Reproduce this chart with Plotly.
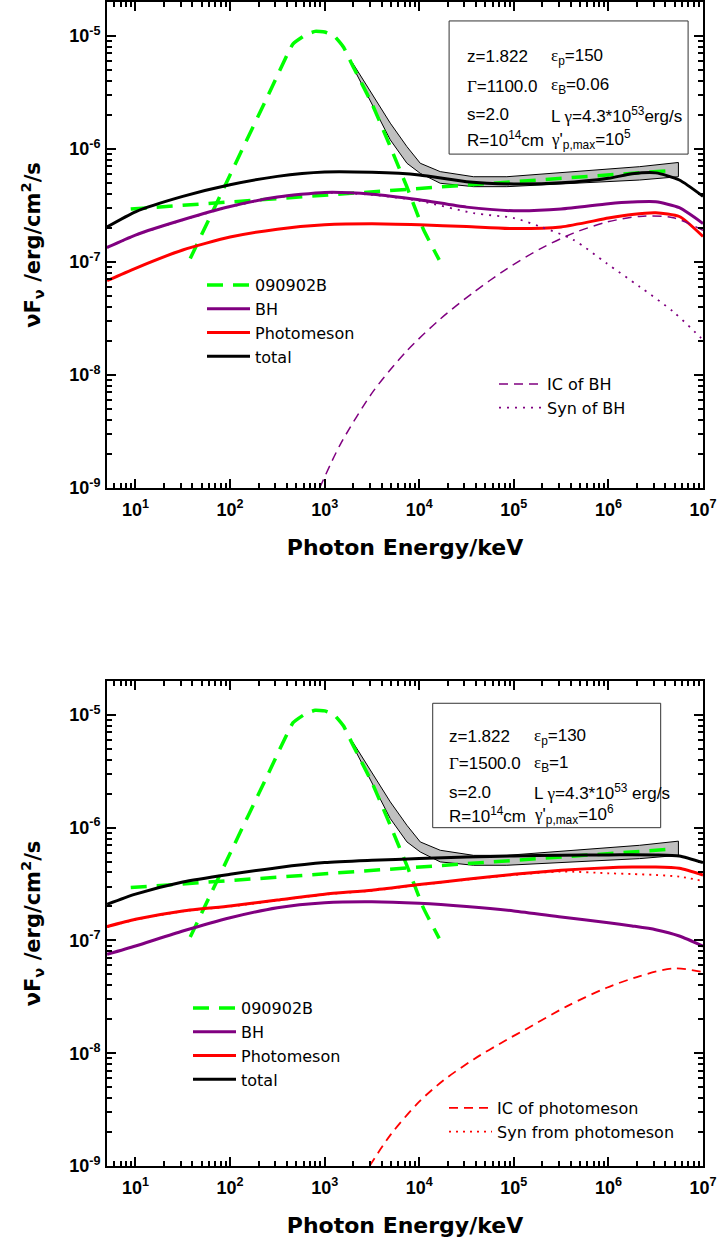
import numpy as np
import plotly.graph_objects as go

# ---------------- data (log10 of keV and of erg/cm^2/s) ----------------
grid_logE = [0.7, 1.0, 1.5, 2.0, 2.5, 3.0, 3.5, 4.0, 4.5, 5.0, 5.5, 6.0, 6.25, 6.5, 6.75, 7.0]

# upper panel (Gamma=1100)
top_total = [-6.69, -6.556, -6.42, -6.317, -6.243, -6.204, -6.207, -6.23, -6.29, -6.31,
             -6.30, -6.26, -6.22, -6.212, -6.275, -6.42]
top_bh = [-6.872, -6.762, -6.627, -6.51, -6.426, -6.385, -6.40, -6.45, -6.515, -6.547,
          -6.532, -6.485, -6.47, -6.468, -6.52, -6.66]
top_pm = [-7.166, -7.056, -6.894, -6.78, -6.71, -6.672, -6.663, -6.672, -6.687, -6.705,
          -6.69, -6.612, -6.58, -6.565, -6.598, -6.775]
top_syn_logE = [0.7, 1.0, 1.5, 2.0, 2.5, 3.0, 3.5, 4.0, 4.574, 5.0, 5.278, 5.63, 5.98,
                6.33, 6.685, 6.967, 7.0]
top_syn = [-6.875, -6.765, -6.63, -6.513, -6.429, -6.389, -6.406, -6.46, -6.568, -6.612,
           -6.687, -6.805, -7.012, -7.219, -7.44, -7.663, -7.69]
top_ic_logE = [2.947, 3.166, 3.517, 3.870, 4.222, 4.574, 4.926, 5.278, 5.63, 5.98, 6.33,
               6.685, 7.0]
top_ic = [-9.0, -8.614, -8.141, -7.786, -7.505, -7.269, -7.061, -6.884, -6.745, -6.648,
          -6.597, -6.609, -6.72]

# lower panel (Gamma=1500)
bot_total = [-6.68, -6.59, -6.482, -6.414, -6.355, -6.31, -6.29, -6.275, -6.26, -6.251,
             -6.245, -6.242, -6.241, -6.242, -6.251, -6.31]
bot_pm = [-6.878, -6.813, -6.739, -6.695, -6.642, -6.59, -6.555, -6.505, -6.458, -6.414,
          -6.378, -6.355, -6.35, -6.349, -6.36, -6.42]
bot_bh = [-7.124, -7.05, -6.917, -6.799, -6.71, -6.666, -6.657, -6.671, -6.70, -6.739,
          -6.792, -6.843, -6.872, -6.905, -6.961, -7.05]
bot_syn = [-6.882, -6.817, -6.743, -6.699, -6.646, -6.594, -6.559, -6.509, -6.462, -6.42,
           -6.39, -6.405, -6.412, -6.42, -6.435, -6.473]
bot_ic_logE = [3.475, 3.7, 4.0, 4.257, 4.574, 4.926, 5.101, 5.559, 5.981, 6.333, 6.685, 7.0]
bot_ic = [-9.0, -8.72, -8.43, -8.24, -8.055, -7.88, -7.8, -7.585, -7.42, -7.316, -7.248,
          -7.28]

# observed 090902B spectrum: Band component + power law, and the data butterfly
band_logE = [1.579, 2.0, 2.4, 2.666, 2.8, 2.9, 3.0, 3.1, 3.2, 3.3, 3.5, 3.694, 3.87, 4.046, 4.211]
band_logF = [-6.97, -6.23, -5.53, -5.07, -4.99, -4.96, -4.965, -5.0, -5.1, -5.27, -5.60,
             -5.98, -6.337, -6.716, -6.982]
pl_logE = [0.95, 6.63]
pl_logF = [-6.532, -6.193]
bfly_logE = [3.296, 3.517, 3.694, 3.870, 4.011, 4.222, 4.574, 4.926, 5.63, 6.33, 6.74]
bfly_upper = [-5.24, -5.536, -5.772, -5.98, -6.127, -6.201, -6.246, -6.246, -6.201, -6.157, -6.12]
bfly_lower = [-5.27, -5.625, -5.92, -6.127, -6.216, -6.304, -6.334, -6.334, -6.304, -6.275, -6.246]

x_major = [10, 100, 1e3, 1e4, 1e5, 1e6, 1e7]
x_major_text = ["10<sup>1</sup>", "10<sup>2</sup>", "10<sup>3</sup>", "10<sup>4</sup>",
                "10<sup>5</sup>", "10<sup>6</sup>", "10<sup>7</sup>"]
y_major = [1e-9, 1e-8, 1e-7, 1e-6, 1e-5]
y_major_text = ["10<sup>-9</sup>", "10<sup>-8</sup>", "10<sup>-7</sup>", "10<sup>-6</sup>",
                "10<sup>-5</sup>"]

GREEN = "#00ff00"
PURPLE = "#800080"
RED = "#ff0000"
BLACK = "#000000"


def P(a):
    return np.power(10.0, np.asarray(a, dtype=float))


fig = go.Figure()


def add_panel(xa, ya, leg_main, leg_sec, total, bh, pm, sec_specs):
    fx = list(bfly_logE) + list(bfly_logE[::-1])
    fy = list(bfly_upper) + list(bfly_lower[::-1])
    fig.add_trace(go.Scatter(x=P(fx), y=P(fy), fill="toself", fillcolor="#c0c0c0",
                             mode="lines", line=dict(color=BLACK, width=1),
                             showlegend=False, xaxis=xa, yaxis=ya, hoverinfo="skip"))
    fig.add_trace(go.Scatter(x=P(band_logE), y=P(band_logF), mode="lines", name="090902B",
                             line=dict(color=GREEN, width=3.5, dash="16px,10px", shape="spline",
                                       smoothing=0.35),
                             legend=leg_main, legendgroup=leg_main + "g", xaxis=xa, yaxis=ya))
    fig.add_trace(go.Scatter(x=P(pl_logE), y=P(pl_logF), mode="lines", name="090902B",
                             line=dict(color=GREEN, width=3.5, dash="16px,10px"),
                             legend=leg_main, legendgroup=leg_main + "g", showlegend=False,
                             xaxis=xa, yaxis=ya))
    for name, vals, col in [("BH", bh, PURPLE), ("Photomeson", pm, RED), ("total", total, BLACK)]:
        fig.add_trace(go.Scatter(x=P(grid_logE), y=P(vals), mode="lines", name=name,
                                 line=dict(color=col, width=3, shape="spline", smoothing=0.6),
                                 legend=leg_main, xaxis=xa, yaxis=ya))
    for name, ex, vals, col, dash, w in sec_specs:
        fig.add_trace(go.Scatter(x=P(ex), y=P(vals), mode="lines", name=name,
                                 line=dict(color=col, width=w, dash=dash, shape="spline",
                                           smoothing=0.8),
                                 legend=leg_sec, xaxis=xa, yaxis=ya))


add_panel("x", "y", "legend", "legend2", top_total, top_bh, top_pm,
          [("IC of BH", top_ic_logE, top_ic, PURPLE, "9px,6px", 1.5),
           ("Syn of BH", top_syn_logE, top_syn, PURPLE, "2px,6px", 1.8)])
add_panel("x2", "y2", "legend3", "legend4", bot_total, bot_bh, bot_pm,
          [("IC of photomeson", bot_ic_logE, bot_ic, RED, "9px,6px", 1.8),
           ("Syn from photomeson", grid_logE, bot_syn, RED, "2px,5px", 1.8)])

x_minor = [m * 10 ** k for k in range(0, 7) for m in range(2, 10) if m * 10 ** k >= 5]
y_minor = [m * 10.0 ** k for k in range(-9, -4) for m in range(2, 10) if m * 10.0 ** k <= 2e-5]

tickfont = dict(family="Liberation Sans", size=18, color="black", weight="bold")


def xaxis(anchor):
    return dict(type="log", range=[np.log10(5), 7], anchor=anchor, domain=[0, 1],
                showline=True, linecolor="black", linewidth=2, mirror="allticks",
                ticks="inside", ticklen=9, tickwidth=2, tickcolor="black",
                tickmode="array", tickvals=x_major, ticktext=x_major_text, tickfont=tickfont,
                ticklabelstandoff=4, automargin=False,
                minor=dict(ticks="inside", ticklen=5, tickwidth=1.5, tickcolor="black",
                           tickmode="array", tickvals=x_minor, showgrid=False),
                showgrid=False, zeroline=False,
                title=dict(text="Photon Energy/keV", standoff=21,
                           font=dict(family="DejaVu Sans", size=22, color="black",
                                     weight="bold")))


def yaxis(anchor, dom):
    return dict(type="log", range=[-9, -4.7], anchor=anchor, domain=dom,
                showline=True, linecolor="black", linewidth=2, mirror="allticks",
                ticks="inside", ticklen=9, tickwidth=2, tickcolor="black",
                tickmode="array", tickvals=y_major, ticktext=y_major_text, tickfont=tickfont,
                ticklabelstandoff=1, automargin=False,
                minor=dict(ticks="inside", ticklen=5, tickwidth=1.5, tickcolor="black",
                           tickmode="array", tickvals=y_minor, showgrid=False),
                showgrid=False, zeroline=False,
                title=dict(text="νF<sub>ν</sub> /erg/cm<sup>2</sup>/s", standoff=23,
                           font=dict(family="DejaVu Sans", size=21, color="black",
                                     weight="bold")))


legfont = dict(family="DejaVu Sans", size=16, color="black")


def legend(xpx, ypx):
    return dict(x=(xpx - 107) / 596, y=(1166 - ypx) / 1164, xref="paper", yref="paper",
                xanchor="left", yanchor="top", bgcolor="rgba(0,0,0,0)", borderwidth=0,
                font=legfont, itemwidth=43, traceorder="normal", tracegroupgap=0)


fig.update_layout(
    width=717, height=1241,
    margin=dict(l=107, r=14, t=2, b=75, autoexpand=False),
    paper_bgcolor="white", plot_bgcolor="white",
    xaxis=xaxis("y"), yaxis=yaxis("x", [0.5825, 1.0]),
    xaxis2=xaxis("y2"), yaxis2=yaxis("x2", [0.0, 0.4167]),
    legend=legend(202, 268), legend2=legend(494, 367),
    legend3=legend(188, 991), legend4=legend(444, 1091),
    showlegend=True,
)

# parameter boxes
GR = '<span style="font-family:Liberation Serif">'
boxes = [
    ("x", "y", [0.574, 0.687, 0.975, 0.961],
     [0.6007, 0.742], [0.887, 0.827, 0.7675, 0.718],
     [("z=1.822", GR + "ε</span><sub>p</sub>=150"),
      (GR + "Γ</span>=1100.0", GR + "ε</span><sub>B</sub>=0.06"),
      ("s=2.0", "L " + GR + "γ</span>=4.3*10<sup>53</sup>erg/s"),
      ("R=10<sup>14</sup>cm", GR + "γ</span>'<sub>p,max</sub>=10<sup>5</sup>")]),
    ("x2", "y2", [0.5465, 0.6975, 0.929, 0.954],
     [0.571, 0.713], [0.8845, 0.829, 0.771, 0.724],
     [("z=1.822", GR + "ε</span><sub>p</sub>=130"),
      (GR + "Γ</span>=1500.0", GR + "ε</span><sub>B</sub>=1"),
      ("s=2.0", "L " + GR + "γ</span>=4.3*10<sup>53</sup> erg/s"),
      ("R=10<sup>14</sup>cm", GR + "γ</span>'<sub>p,max</sub>=10<sup>6</sup>")]),
]
for xa, ya, rect, cols, rows, texts in boxes:
    fig.add_shape(type="rect", xref=xa + " domain", yref=ya + " domain",
                  x0=rect[0], y0=rect[1], x1=rect[2], y1=rect[3],
                  line=dict(color="#333333", width=1), fillcolor="rgba(0,0,0,0)")
    for (left, right), yy in zip(texts, rows):
        for txt, xx in [(left, cols[0]), (right, cols[1])]:
            fig.add_annotation(text=txt, xref=xa + " domain", yref=ya + " domain",
                               x=xx, y=yy, xanchor="left", yanchor="middle", showarrow=False,
                               font=dict(family="Liberation Sans", size=17, color="black"))

fig.write_html("out.html", config={"displayModeBar": False},
               post_script="document.body.style.margin='0px';")
